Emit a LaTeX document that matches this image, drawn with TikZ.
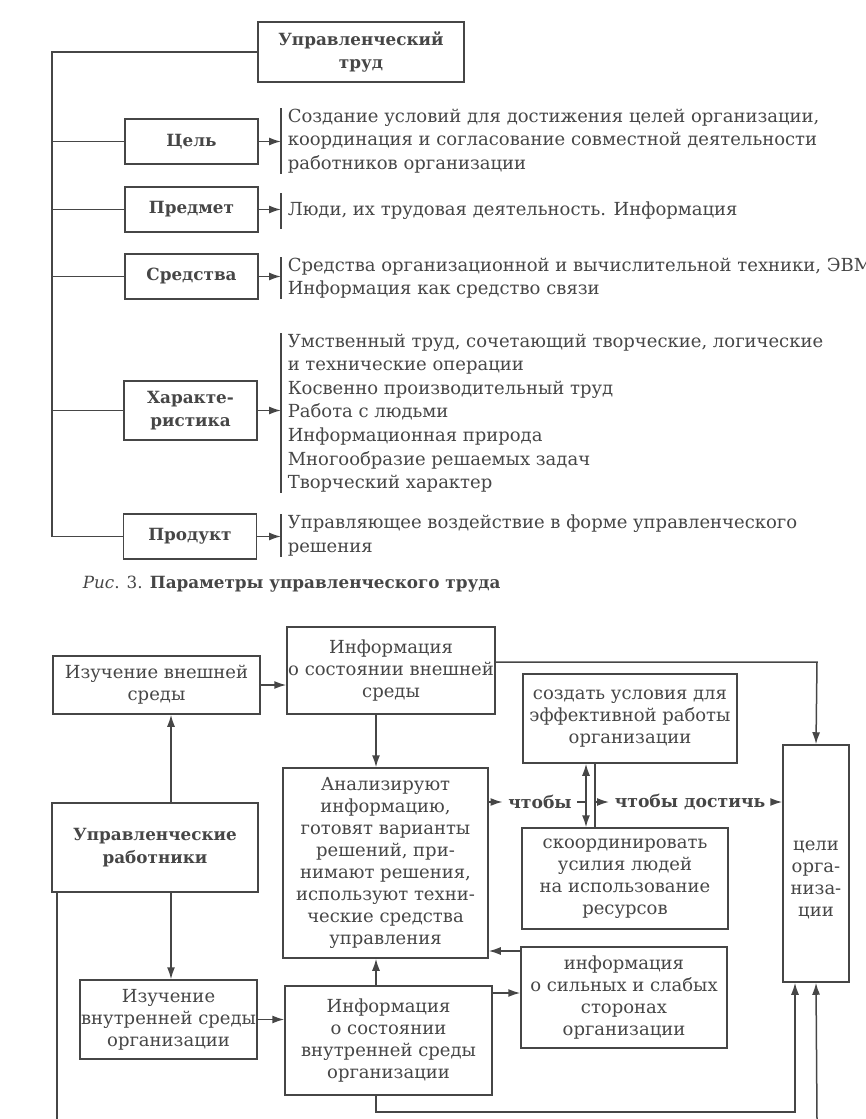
\documentclass[tikz,border=0pt]{standalone}
\usepackage{fontspec}
\setmainfont{DejaVu Serif}
\usepackage{xcolor}
\usepackage{tikz}
\usetikzlibrary{arrows.meta}
\definecolor{ink}{RGB}{70,70,70}
\definecolor{txt}{RGB}{70,70,70}

\begin{document}
\begin{tikzpicture}[x=0.5pt,y=-0.5pt,
    line width=0.75pt, draw=ink, text=txt,
    >={Latex[length=6pt,width=4pt]},
    box/.style = {draw=ink, align=center, inner sep=0pt,
                  font=\fontsize{9}{11}\selectfont},
    parbox/.style = {box, minimum width=66.5pt, minimum height=22.5pt,
                     font=\fontsize{8.4}{11.8}\selectfont\bfseries},
    list/.style = {anchor=north west, align=left, inner xsep=3pt, inner ysep=0pt,
                   font=\fontsize{9}{11.8}\selectfont},
    link/.style = {inner sep=2.5pt, font=\fontsize{8.6}{11}\selectfont\bfseries}]
    \useasboundingbox (0,0) rectangle (866,1119);

    % --- parameters of managerial work
    \node[box, font=\fontsize{8.4}{11.8}\selectfont\bfseries, minimum width=103pt, minimum height=30pt]
        at (361,52) (trud) {Управленческий\\труд};
    \node[parbox] at (191.5,141.5) (cel) {Цель};
    \node[parbox] at (191.5,209.5) (pred) {Предмет};
    \node[parbox] at (191.5,276.5) (sred) {Средства};
    \node[parbox, minimum height=29.5pt] at (190.5,410.5) (har) {Характе-\\ристика};
    \node[parbox] at (190,536.5) (prod) {Продукт};
    \coordinate (spine) at (52,0);

    \node[list] at (281,108) (celT) {Создание условий для достижения целей организации,\\
        координация и согласование совместной деятельности\\работников организации};
    \node[list, minimum height=17pt] at (281,193) (predT) {Люди, их трудовая деятельность. Информация};
    \node[list] at (281,257) (sredT) {Средства организационной и вычислительной техники, ЭВМ\\
        Информация как средство связи};
    \node[list] at (281,333) (harT) {Умственный труд, сочетающий творческие, логические\\
        и технические операции\\Косвенно производительный труд\\Работа с людьми\\
        Информационная природа\\Многообразие решаемых задач\\Творческий характер};
    \node[list] at (281,514) (prodT) {Управляющее воздействие в форме управленческого\\решения};

    \draw (trud.west) -- (trud.west -| spine) -- (prod.west -| spine) -- (prod.west);
    \draw (cel.west -| spine) -- (cel.west);
    \draw (pred.west -| spine) -- (pred.west);
    \draw (sred.west -| spine) -- (sred.west);
    \draw (har.west -| spine) -- (har.west);
    \draw (celT.north west) -- (celT.south west);
    \draw (predT.north west) -- (predT.south west);
    \draw (sredT.north west) -- (sredT.south west);
    \draw (harT.north west) -- (harT.south west);
    \draw (prodT.north west) -- (prodT.south west);
    \draw[->] (cel.east) -- (cel.east -| celT.west);
    \draw[->] (pred.east) -- (pred.east -| predT.west);
    \draw[->] (sred.east) -- (sred.east -| sredT.west);
    \draw[->] (har.east) -- (har.east -| harT.west);
    \draw[->] (prod.east) -- (prod.east -| prodT.west);

    \node[anchor=west, inner sep=0pt, font=\fontsize{8.4}{11}\selectfont] at (82,584) (cap)
        {\textit{Рис}. 3. \textbf{Параметры управленческого труда}};

    % --- managerial work scheme
    \node[box, minimum width=103.5pt, minimum height=29pt] at (156.5,685) (izv) {Изучение внешней\\среды};
    \node[box, minimum width=104pt, minimum height=43.5pt] at (391,670.5) (ive)
        {Информация\\о состоянии внешней\\среды};
    \node[box, minimum width=102.5pt, minimum height=95pt] at (385.5,863) (an)
        {Анализируют\\информацию,\\готовят варианты\\решений, при-\\нимают решения,\\
         используют техни-\\ческие средства\\управления};
    \node[box, minimum width=107pt, minimum height=44.5pt] at (630,718.5) (cr)
        {создать условия для\\эффективной работы\\организации};
    \node[box, minimum width=103pt, minimum height=50.5pt] at (625,878.5) (co)
        {скоординировать\\усилия людей\\на использование\\ресурсов};
    \node[box, minimum width=33pt, minimum height=118.5pt] at (816,863.5) (goal)
        {\rule{0pt}{21pt}цели\\орга-\\низа-\\ции};
    \node[box, font=\fontsize{8.4}{11.8}\selectfont\bfseries, minimum width=103pt, minimum height=44.5pt]
        at (155,847.5) (ur) {Управленческие\\работники};
    \node[box, minimum width=88.5pt, minimum height=39.5pt] at (168.5,1019.5) (izvn)
        {Изучение\\внутренней среды\\организации};
    \node[box, minimum width=103.5pt, minimum height=54.5pt] at (388.5,1040.5) (ivn)
        {Информация\\о состоянии\\внутренней среды\\организации};
    \node[box, minimum width=103pt, minimum height=50.5pt] at (624,997.5) (sil)
        {информация\\о сильных и слабых\\сторонах\\организации};
    \node[link] at (540,802) (to1) {чтобы};
    \node[link] at (690,802) (to2) {чтобы достичь};

    \coordinate (colA) at (376,0);
    \coordinate (colB) at (171,0);
    \coordinate (colD) at (586,0);
    \coordinate (colE) at (595,0);
    \coordinate (rowC) at (0,802);
    \coordinate (rowS) at (0,951);
    \coordinate (rowI) at (0,993);
    \coordinate (topR) at (817,662);
    \coordinate (loopB) at (795,1112);
    \coordinate (edgeL) at (57,1119);
    \coordinate (edgeR) at (817,1119);

    \draw[->] (izv.east) -- (izv.east -| ive.west);
    \draw[->] (ive.south -| colA) -- (an.north -| colA);
    \draw[->] (topR -| ive.east) -- (topR) -- (goal.north);
    \draw[->] (ur.north -| colB) -- (izv.south -| colB);
    \draw[->] (ur.south -| colB) -- (izvn.north -| colB);
    \draw (ur.south -| edgeL) -- (edgeL);
    \draw[->] (izvn.east) -- (izvn.east -| ivn.west);
    \draw[->] (ivn.north -| colA) -- (an.south -| colA);
    \draw[->] (rowI -| ivn.east) -- (rowI -| sil.west);
    \draw[->] (rowS -| sil.west) -- (rowS -| an.east);
    \draw[->] (rowC -| an.east) -- (to1.west);
    \draw (to1.east) -- (rowC -| colD);
    \draw[<->] (cr.south -| colD) -- (co.north -| colD);
    \draw (cr.south -| colE) -- (co.north -| colE);
    \draw[->] (rowC -| colE) -- (to2.west);
    \draw[->] (to2.east) -- (rowC -| goal.west);
    \draw[->] (ivn.south -| colA) |- (loopB) -- (loopB |- goal.south);
    \draw[->] (edgeR) -- (goal.south);
\end{tikzpicture}
\end{document}
